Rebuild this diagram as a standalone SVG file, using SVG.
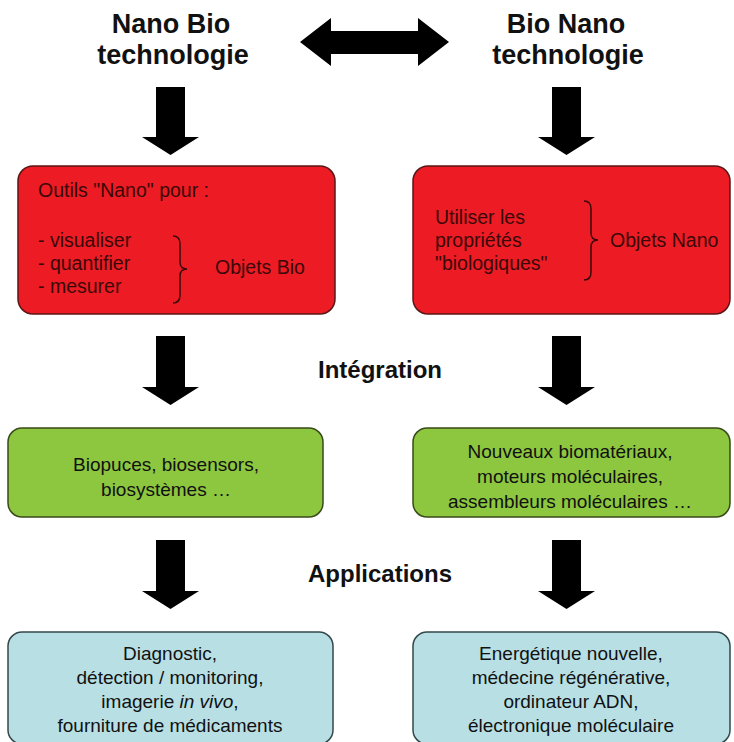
<svg xmlns="http://www.w3.org/2000/svg" width="734" height="742" viewBox="0 0 734 742">
<style>
.t{font-family:"Liberation Sans",Arial,sans-serif;}
.title{font-size:27px;font-weight:bold;fill:#111;text-anchor:middle;}
.lbl{font-size:24px;font-weight:bold;fill:#111;text-anchor:middle;}
.red{fill:#ED1C24;stroke:#5a1616;stroke-width:1.5;}
.green{fill:#8DC63F;stroke:#3a4a1a;stroke-width:1.5;}
.blue{fill:#B7DFE4;stroke:#33484a;stroke-width:1.5;}
.rt{font-size:19.5px;fill:#3a0808;}
.gt{font-size:19px;fill:#111;text-anchor:middle;}
.brace{fill:none;stroke:#3a0808;stroke-width:1.5;}
.arr{fill:#000;}
</style>
<g id="connectors">
<path class="arr" d="M300,42 L331,18 L331,31 L418,31 L418,18 L449,42 L418,66 L418,54 L331,54 L331,66 Z"/>
<path class="arr" d="M156,87 L185,87 L185,137 L199,137 L170.5,155 L142,137 L156,137 Z"/>
<path class="arr" d="M552,87 L581,87 L581,137 L595,137 L566.5,155 L538,137 L552,137 Z"/>
<path class="arr" d="M156,336 L185,336 L185,387 L199,387 L170.5,405 L142,387 L156,387 Z"/>
<path class="arr" d="M552,336 L581,336 L581,387 L595,387 L566.5,405 L538,387 L552,387 Z"/>
<path class="arr" d="M156,540 L185,540 L185,591 L199,591 L170.5,609 L142,591 L156,591 Z"/>
<path class="arr" d="M552,540 L581,540 L581,591 L595,591 L566.5,609 L538,591 L552,591 Z"/>
</g>
<g id="nanobio">
<text class="t title" x="171" y="33">Nano Bio</text>
<text class="t title" x="173" y="64">technologie</text>
</g>
<g id="bionano">
<text class="t title" x="566" y="33">Bio Nano</text>
<text class="t title" x="568" y="64">technologie</text>
</g>
<g id="outils">
<rect class="red" x="18" y="166" width="317" height="148" rx="15"/>
<text class="t rt" x="38" y="197">Outils "Nano" pour :</text>
<text class="t rt" x="38" y="247">- visualiser</text>
<text class="t rt" x="38" y="270">- quantifier</text>
<text class="t rt" x="38" y="293">- mesurer</text>
<path class="brace" d="M173,236 Q180,236 180,244 L180,262 Q180,269 187,269 Q180,269 180,276 L180,295 Q180,303 173,303"/>
<text class="t rt" x="215" y="274">Objets Bio</text>
</g>
<g id="utiliser">
<rect class="red" x="413" y="166" width="317" height="148" rx="15"/>
<text class="t rt" x="435" y="224">Utiliser les</text>
<text class="t rt" x="435" y="247">propriétés</text>
<text class="t rt" x="435" y="270">"biologiques"</text>
<path class="brace" d="M584,201 Q591,201 591,209 L591,233 Q591,240 598,240 Q591,240 591,247 L591,272 Q591,280 584,280"/>
<text class="t rt" x="610" y="247">Objets Nano</text>
</g>
<text class="t lbl" id="integration" x="380" y="378">Intégration</text>
<g id="biopuces">
<rect class="green" x="8" y="428" width="315" height="89" rx="14"/>
<text class="t gt" x="166" y="471">Biopuces, biosensors,</text>
<text class="t gt" x="166" y="496">biosystèmes …</text>
</g>
<g id="biomateriaux">
<rect class="green" x="413" y="428" width="317" height="89" rx="14"/>
<text class="t gt" x="570" y="458">Nouveaux biomatériaux,</text>
<text class="t gt" x="570" y="483">moteurs moléculaires,</text>
<text class="t gt" x="570" y="508">assembleurs moléculaires …</text>
</g>
<text class="t lbl" id="applications" x="380" y="582">Applications</text>
<g id="diagnostic">
<rect class="blue" x="8" y="632" width="325" height="112" rx="14"/>
<text class="t gt" x="170" y="660">Diagnostic,</text>
<text class="t gt" x="170" y="684">détection / monitoring,</text>
<text class="t gt" x="170" y="708">imagerie <tspan font-style="italic">in vivo</tspan>,</text>
<text class="t gt" x="170" y="732">fourniture de médicaments</text>
</g>
<g id="energetique">
<rect class="blue" x="413" y="632" width="317" height="112" rx="14"/>
<text class="t gt" x="571" y="660">Energétique nouvelle,</text>
<text class="t gt" x="571" y="684">médecine régénérative,</text>
<text class="t gt" x="571" y="708">ordinateur ADN,</text>
<text class="t gt" x="571" y="732">électronique moléculaire</text>
</g>
</svg>
